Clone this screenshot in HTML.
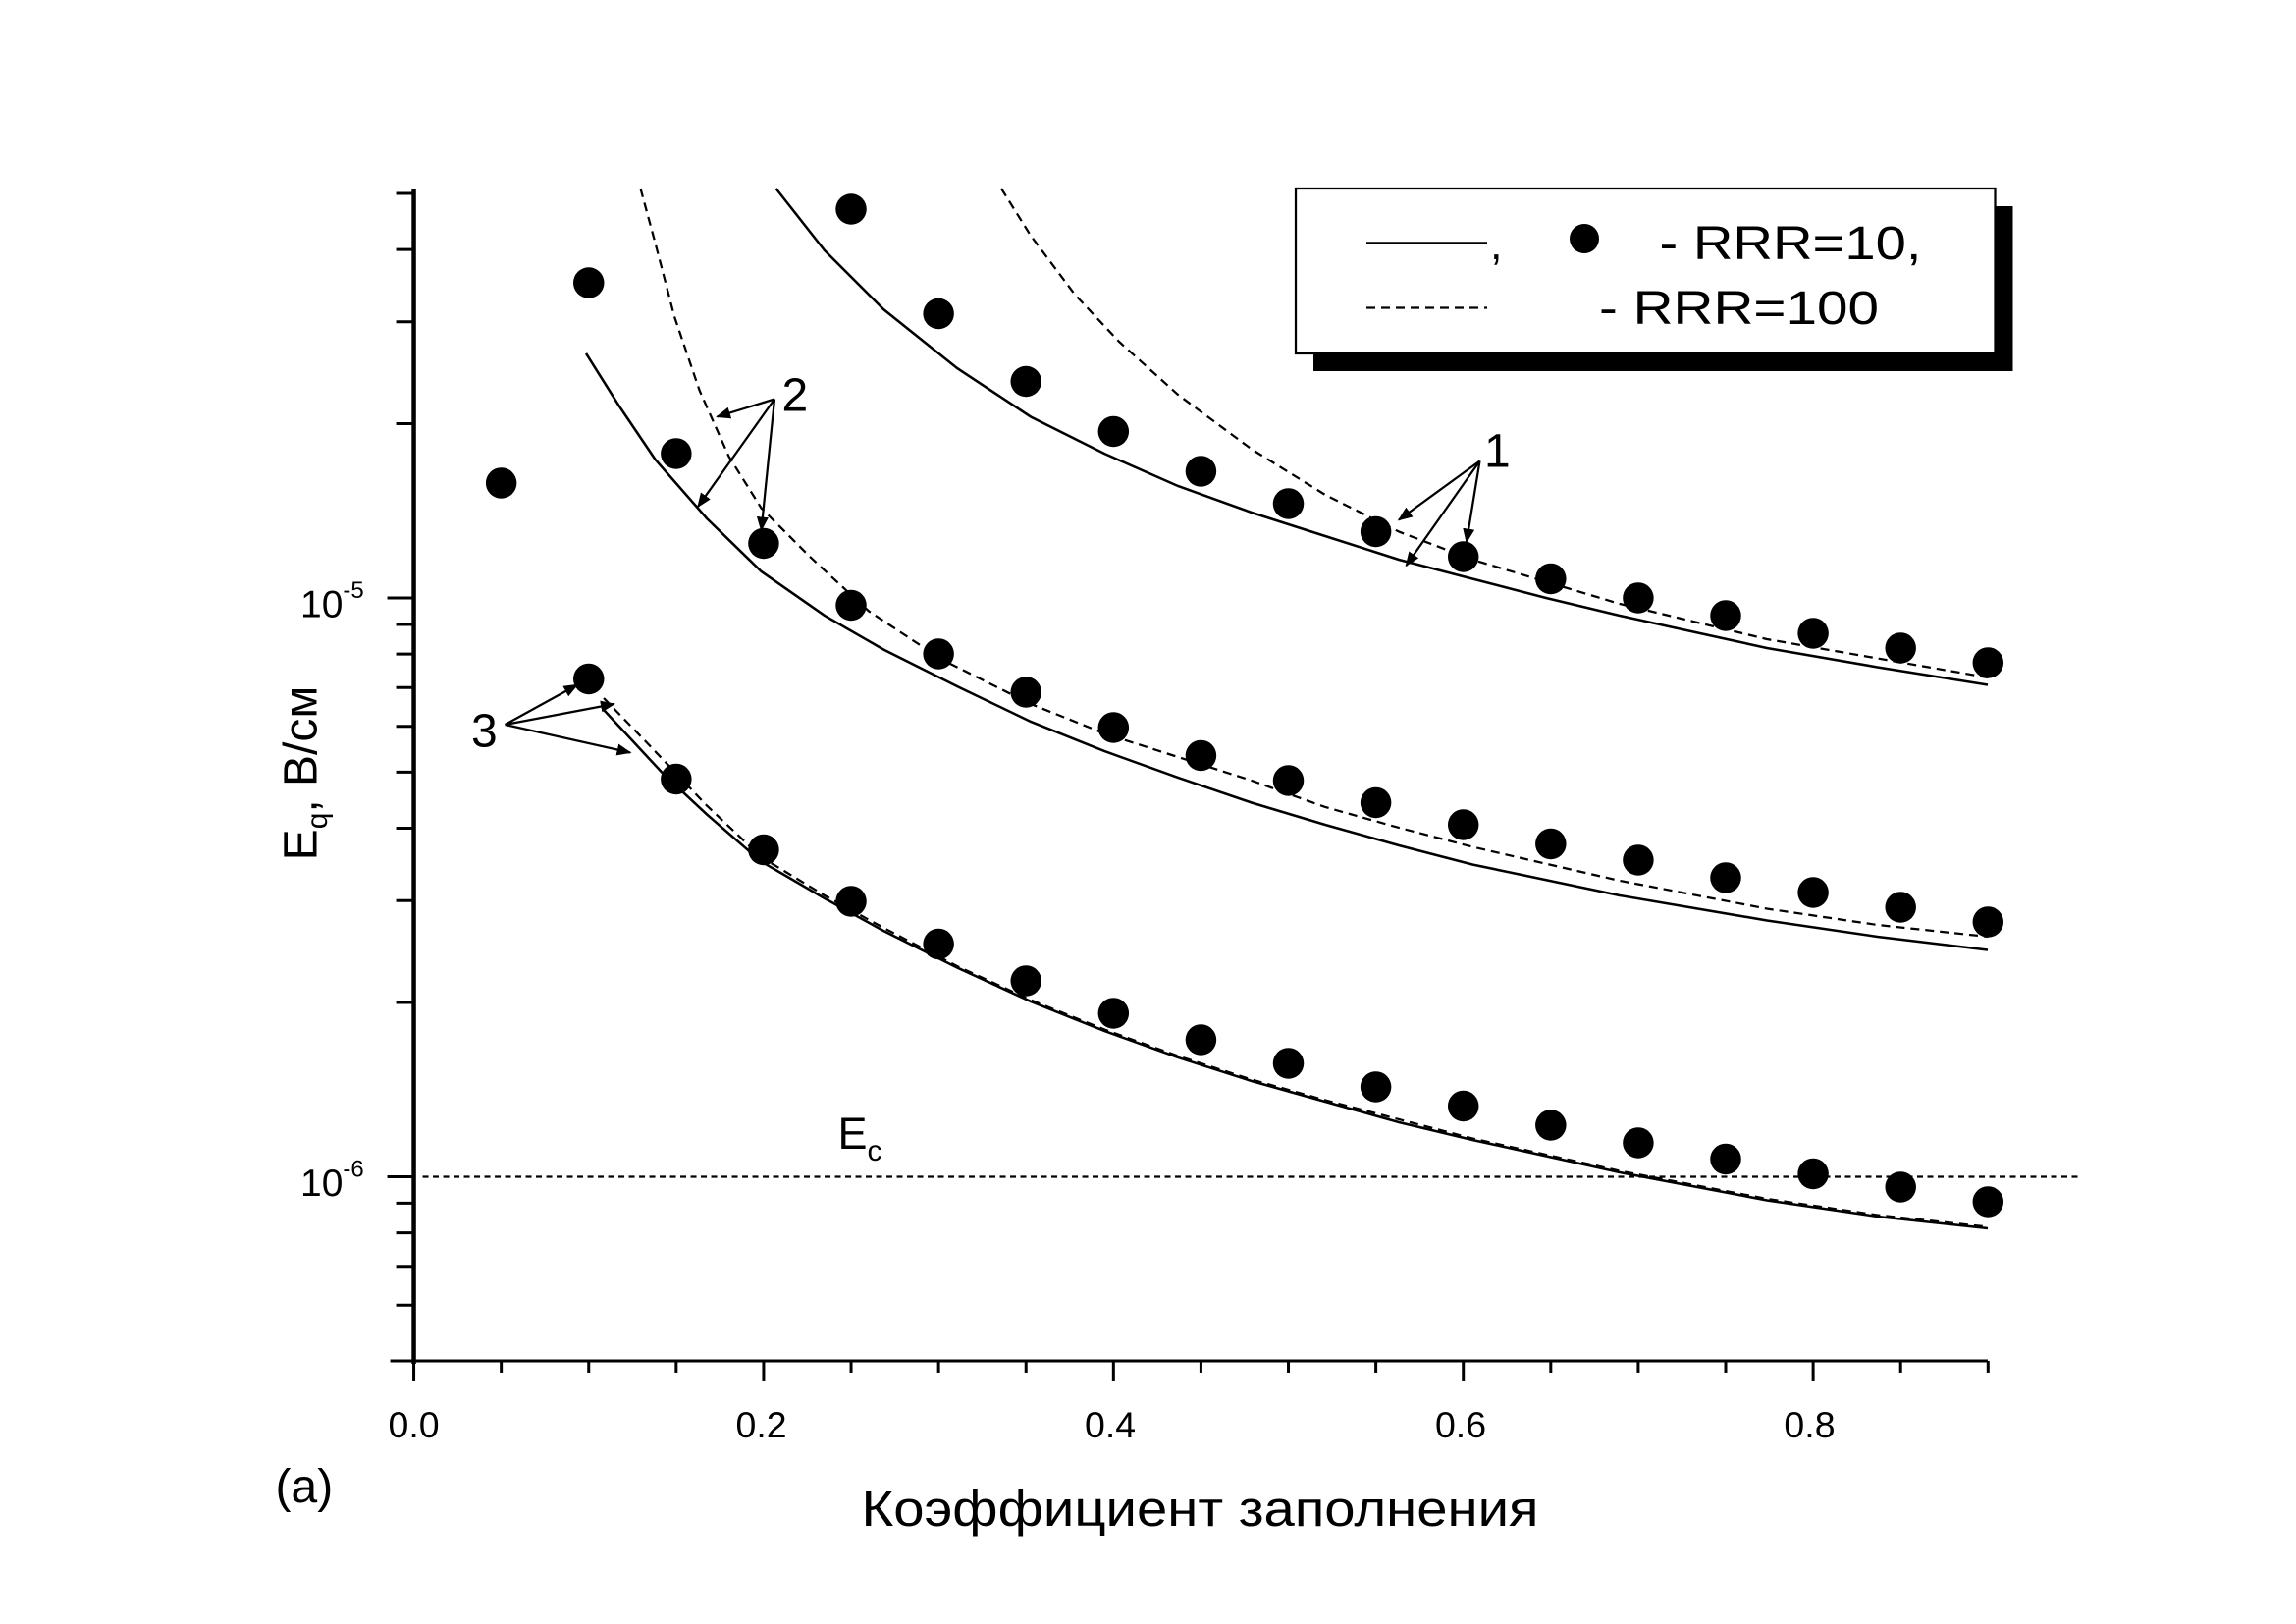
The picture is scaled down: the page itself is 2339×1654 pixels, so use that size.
<!DOCTYPE html>
<html><head><meta charset="utf-8"><style>
html,body{margin:0;padding:0;background:#fff;}
svg{display:block;}
text{font-family:"Liberation Sans",sans-serif;fill:#000;}
</style></head><body>
<svg id="s" width="2339" height="1654" viewBox="0 0 1559.3 1102.7" xmlns="http://www.w3.org/2000/svg">
<rect width="1559.3" height="1102.7" fill="#fff"/>
<g id="ticks" stroke="#000" stroke-width="2"></g>
<line x1="281" y1="128" x2="281" y2="926" stroke="#000" stroke-width="3"/>
<line x1="281" y1="924" x2="1350" y2="924" stroke="#000" stroke-width="2"/>
<g font-size="25" text-anchor="middle">
<text x="281" y="976">0.0</text><text x="517" y="976">0.2</text><text x="754" y="976">0.4</text><text x="992" y="976">0.6</text><text x="1229" y="976">0.8</text>
</g>
<text x="204" y="419" font-size="26">10<tspan font-size="16" dy="-13">-5</tspan></text>
<text x="204" y="812" font-size="26">10<tspan font-size="16" dy="-13">-6</tspan></text>
<text transform="translate(215,525) rotate(-90)" font-size="32" text-anchor="middle">E<tspan font-size="20" dy="7">q</tspan><tspan dy="-7">,  В/см</tspan></text>
<text x="585" y="1036" font-size="34" textLength="460" lengthAdjust="spacingAndGlyphs">Коэффициент заполнения</text>
<text x="187" y="1020" font-size="32">(a)</text>
<line x1="287" y1="799" x2="1411" y2="799" stroke="#000" stroke-width="1.5" stroke-dasharray="4,3"/>
<text x="569" y="780" font-size="30">E<tspan font-size="20" dy="8">c</tspan></text>
<g fill="none" stroke="#000" stroke-width="1.7">
<polyline points="527,128 560,170 600,210 650,250 700,283 750,308 800,330 850,348 900,364 950,380 1000,393 1050,406 1100,418 1150,429 1200,440 1275,453 1350,465"/>
<polyline points="398,240 420,275 445,312 480,352 517,388 560,418 600,441 650,466 700,490 750,510 800,528 850,545 900,560 950,574 1000,587 1100,608 1200,625 1275,636 1350,645"/>
<polyline points="410,482 450,525 480,553 517,585 560,610 600,632 650,657 700,680 750,700 800,718 850,734 900,748 950,762 1000,774 1100,796 1200,815 1275,826 1350,834"/>
</g>
<g fill="none" stroke="#000" stroke-width="1.5" stroke-dasharray="6,4">
<polyline points="680,128 700,160 730,200 760,232 800,268 850,305 900,336 950,361 1000,380 1050,395 1100,410 1150,422 1200,434 1275,447 1350,460"/>
<polyline points="435,128 445,165 458,215 475,265 495,310 517,345 550,378 590,415 640,448 700,478 750,498 800,514 850,530 900,548 950,562 1000,575 1100,598 1200,617 1275,628 1350,636"/>
<polyline points="410,474 440,505 480,547 517,582 560,608 600,630 650,656 700,679 750,699 800,717 850,733 900,747 950,760 1000,773 1100,795 1200,814 1275,825 1350,833"/>
</g>
<g id="dots" fill="#000"></g>
<rect x="892" y="140" width="475" height="112" fill="#000"/>
<rect x="880" y="128" width="475" height="112" fill="#fff" stroke="#000" stroke-width="1.5"/>
<line x1="928" y1="165" x2="1010" y2="165" stroke="#000" stroke-width="1.7"/>
<text x="1012" y="176" font-size="30">,</text>
<circle cx="1076" cy="162" r="10" fill="#000"/>
<text x="1127" y="176" font-size="32" textLength="178" lengthAdjust="spacingAndGlyphs">- RRR=10,</text>
<line x1="928" y1="209" x2="1010" y2="209" stroke="#000" stroke-width="1.5" stroke-dasharray="6,4"/>
<text x="1086" y="220" font-size="32" textLength="190" lengthAdjust="spacingAndGlyphs">- RRR=100</text>
<g font-size="32"><text x="531" y="279">2</text><text x="1008" y="317">1</text><text x="320" y="507">3</text></g>
<defs><marker id="ah" markerWidth="10" markerHeight="8" refX="9" refY="4" orient="auto" markerUnits="userSpaceOnUse"><path d="M0,0 L10,4 L0,8 z" fill="#000"/></marker></defs>
<g stroke="#000" stroke-width="1.5" marker-end="url(#ah)">
<line x1="526" y1="271" x2="487" y2="283"/><line x1="526" y1="271" x2="474" y2="344"/><line x1="526" y1="271" x2="517" y2="360"/>
<line x1="1005" y1="313" x2="950" y2="353"/><line x1="1005" y1="313" x2="955" y2="384"/><line x1="1005" y1="313" x2="996" y2="368"/>
<line x1="343" y1="492" x2="392" y2="465"/><line x1="343" y1="492" x2="417" y2="478"/><line x1="343" y1="492" x2="428" y2="511"/>
</g>
</svg>
<script>
var ns="http://www.w3.org/2000/svg";
function y(v){return 406+(-5-Math.log10(v))*393;}
var t=document.getElementById("ticks");
function ln(x1,y1,x2,y2){var l=document.createElementNS(ns,"line");l.setAttribute("x1",x1);l.setAttribute("y1",y1);l.setAttribute("x2",x2);l.setAttribute("y2",y2);t.appendChild(l);}
[[6e-7,1],[7e-7,1],[8e-7,1],[9e-7,1],[1e-6,0],[2e-6,1],[3e-6,1],[4e-6,1],[5e-6,1],[6e-6,1],[7e-6,1],[8e-6,1],[9e-6,1],[1e-5,0],[2e-5,1],[3e-5,1],[4e-5,1],[5e-5,1]].forEach(function(a){var yy=y(a[0]);ln(a[1]?269:263,yy,281,yy);});
ln(265,924,281,924);
for(var i=0;i<=18;i++){var x=281+i*0.05*1188;ln(x,924,x,i%4==0?938:932);}
var d=document.getElementById("dots");
function dot(x,yy){var c=document.createElementNS(ns,"circle");c.setAttribute("cx",281+x*1188);c.setAttribute("cy",yy);c.setAttribute("r",10.5);d.appendChild(c);}
var s1=[[0.25,142],[0.3,213],[0.35,259],[0.4,293],[0.45,320],[0.5,342],[0.55,361],[0.6,378],[0.65,393],[0.7,406],[0.75,418],[0.8,430],[0.85,440],[0.9,450]];
var s2=[[0.05,328],[0.1,192],[0.15,308],[0.2,369],[0.25,411],[0.3,444],[0.35,470],[0.4,494],[0.45,513],[0.5,530],[0.55,545],[0.6,560],[0.65,573],[0.7,584],[0.75,596],[0.8,606],[0.85,616],[0.9,626]];
var s3=[[0.1,461],[0.15,529],[0.2,577],[0.25,612],[0.3,641],[0.35,666],[0.4,688],[0.45,706],[0.5,722],[0.55,738],[0.6,751],[0.65,764],[0.7,776],[0.75,787],[0.8,797],[0.85,806],[0.9,816]];
s1.concat(s2,s3).forEach(function(p){dot(p[0],p[1]);});
</script>
</body></html>
